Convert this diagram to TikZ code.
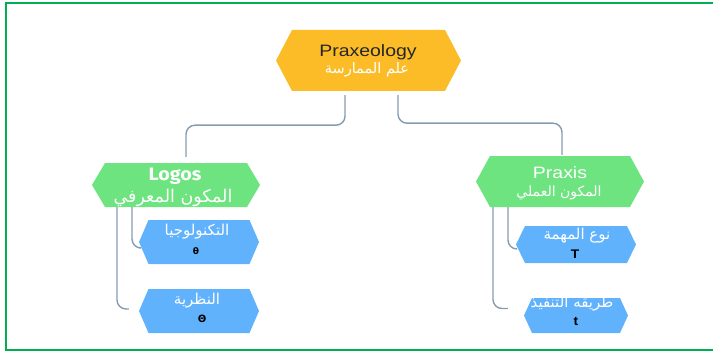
\documentclass[tikz,border=0pt]{standalone}
\usepackage{fontspec}
\setmainfont{Liberation Sans}
\newfontfamily\latf[FakeStretch=1.18]{Liberation Sans}
\newfontfamily\latb[FakeStretch=1.1]{Liberation Sans Bold}
\newfontfamily\logf[FakeStretch=1.1]{Fira Sans Bold}
\newfontfamily\arabicfont[Script=Arabic]{DejaVu Sans}
\newfontfamily\symf{DejaVu Sans Bold}
\TeXXeTstate=1
\usetikzlibrary{calc}
\definecolor{orangefill}{RGB}{251,188,39}
\definecolor{greenfill}{RGB}{110,228,128}
\definecolor{bluefill}{RGB}{97,178,252}
\definecolor{connc}{RGB}{135,155,176}
\definecolor{framec}{RGB}{0,176,80}
\tikzset{
 hexa/.style n args={4}{rectangle, inner sep=0pt, minimum width=#1, minimum height=#2,
   path picture={\fill[#4] (path picture bounding box.west)
     -- ([xshift=#3]path picture bounding box.north west)
     -- ([xshift=-#3]path picture bounding box.north east)
     -- (path picture bounding box.east)
     -- ([xshift=-#3]path picture bounding box.south east)
     -- ([xshift=#3]path picture bounding box.south west) -- cycle;}},
 conn/.style={draw=connc, line width=1.4pt, rounded corners=9pt},
 ar/.style={text=white, inner sep=0pt, font=\arabicfont\fontsize{#1}{#1}\selectfont},
 lat/.style={anchor=base, inner sep=0pt, font=\latf\fontsize{#1}{#1}\selectfont},
 sym/.style={text=black, inner sep=0pt, font=\symf\fontsize{#1}{#1}\selectfont},
 bl/.style={anchor=base, text=black, inner sep=0pt, font=\latb\fontsize{#1}{#1}\selectfont},
}
\begin{document}
\begin{tikzpicture}[x=1pt,y=-1pt]
\useasboundingbox (0,0) rectangle (713,353);
\draw[framec, line width=2pt] (713,3) -- (6,3) -- (6,350) -- (713,350);

\node[hexa={185pt}{61pt}{16pt}{orangefill}] (prax) at (368.5,60.5) {};
\node[hexa={168pt}{44pt}{13pt}{greenfill}] (logos) at (176,185) {};
\node[hexa={168pt}{51pt}{14pt}{greenfill}] (praxis) at (560,181.5) {};
\node[hexa={120pt}{44pt}{9.5pt}{bluefill}] (theta) at (199,242) {};
\node[hexa={120pt}{44pt}{9.5pt}{bluefill}] (Theta) at (199,311) {};
\node[hexa={120pt}{37pt}{9pt}{bluefill}] (tasktype) at (576,244.5) {};
\node[hexa={104pt}{35pt}{8pt}{bluefill}] (technique) at (576,315.5) {};

\node[lat=16.5, text=black!85] (praxL) at (368,57) {Praxeology};
\node[ar=14.5] (praxA) at (367,69.5) {\beginR علم الممارسة\endR};

\node[anchor=base, inner sep=0pt, text=white, font=\logf\fontsize{18}{18}\selectfont] (logosL) at (175,180) {Logos};
\node[ar=17.5] (logosA) at (173,197.5) {\beginR المكون المعرفي\endR};

\node[lat=16.5, text=white] (praxisL) at (560,178) {Praxis};
\node[ar=14] (praxisA) at (559,193) {\beginR المكون العملي\endR};

\node[ar=15] (thetaA) at (197,232) {\beginR التكنولوجيا\endR};
\node[sym=9] (thetaS) at (196,251) {θ};
\node[ar=15] (ThetaA) at (197,301) {\beginR النظرية\endR};
\node[sym=10] (ThetaS) at (202,319) {Θ};

\node[ar=15] (taskA) at (577,236) {\beginR نوع المهمة\endR};
\node[bl=12.5] (taskS) at (575,258) {T};
\node[ar=15] (techA) at (572,304) {\beginR طريقه التنفيذ\endR};
\node[bl=12.5] (techS) at (576,325) {t};

\draw[conn] ([shift={(-23.5,4)}]prax.south) -- ++(0,30) -| ([shift={(10,-6)}]logos.north);
\draw[conn] ([shift={(29.5,4)}]prax.south) -- ++(0,28) -| ([shift={(2,-1)}]praxis.north);

\draw[conn] ([xshift=-44pt]logos.south) |- ([shift={(0,6)}]theta.west);
\draw[conn] ([xshift=-59pt]logos.south) |- ([shift={(-10,-2)}]Theta.west);
\draw[conn] ([xshift=-52pt]praxis.south) |- ([shift={(0,4.5)}]tasktype.west);
\draw[conn] ([xshift=-67pt]praxis.south) |- ([shift={(-16,-7)}]technique.west);
\end{tikzpicture}
\end{document}
